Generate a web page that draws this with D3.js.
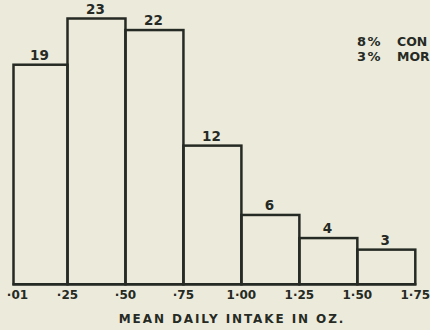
<!DOCTYPE html>
<html>
<head>
<meta charset="utf-8">
<script src="https://cdn.jsdelivr.net/npm/d3@7/dist/d3.min.js"></script>
<style>
  html, body { margin: 0; padding: 0; background: #ecebdb; }
  svg { display: block; }
  text { font-family: "DejaVu Sans", sans-serif; fill: #262a24; }
</style>
</head>
<body>
<svg id="chart" width="430" height="330"></svg>
<script>
// Class boundaries (oz.) and number of animals in each class
const binEdges = [0.01, 0.25, 0.50, 0.75, 1.00, 1.25, 1.50, 1.75];
const counts = [19, 23, 22, 12, 6, 4, 3];
const tickLabels = ["·01", "·25", "·50", "·75", "1·00", "1·25", "1·50", "1·75"];
const axisTitle = "MEAN DAILY INTAKE IN OZ.";
const notePercents = ["8%", "3%"];
const noteWords = ["CON", "MOR"];

const ink = "#262a24";
const svg = d3.select("#chart");

const x = d3.scaleLinear()
  .domain([0.01, 0.25, 1.75])
  .range([13.5, 67.5, 415.3]);
const y = d3.scaleLinear()
  .domain([0, 23])
  .range([284.3, 18.5]);

const bins = counts.map((c, i) => ({ x0: binEdges[i], x1: binEdges[i + 1], n: c }));

// histogram bars
svg.append("g").selectAll("rect")
  .data(bins)
  .join("rect")
  .attr("x", d => x(d.x0))
  .attr("y", d => y(d.n))
  .attr("width", d => x(d.x1) - x(d.x0))
  .attr("height", d => y(0) - y(d.n))
  .attr("fill", "none")
  .attr("stroke", ink)
  .attr("stroke-width", 2.5);

// baseline
svg.append("line")
  .attr("x1", x(binEdges[0]) - 1).attr("x2", x(binEdges[binEdges.length - 1]) + 1)
  .attr("y1", y(0)).attr("y2", y(0))
  .attr("stroke", ink).attr("stroke-width", 2.5);

// count labels above bars
svg.append("g").selectAll("text")
  .data(bins)
  .join("text")
  .attr("x", d => (x(d.x0) + x(d.x1)) / 2 - 1)
  .attr("y", d => y(d.n) - 5)
  .attr("text-anchor", "middle")
  .attr("font-size", 13.5)
  .attr("font-weight", 700)
  .text(d => d.n);

// boundary labels under the axis
svg.append("g").selectAll("text")
  .data(binEdges)
  .join("text")
  .attr("x", (d, i) => x(d) + (i === 0 ? 4 : 0))
  .attr("y", 298.5)
  .attr("text-anchor", "middle")
  .attr("font-size", 12)
  .attr("font-weight", 700)
  .text((d, i) => tickLabels[i]);

// axis title
svg.append("text")
  .attr("x", 232)
  .attr("y", 322.5)
  .attr("text-anchor", "middle")
  .attr("font-size", 12)
  .attr("font-weight", 700)
  .attr("letter-spacing", 1.9)
  .text(axisTitle);

// note at right
const note = svg.append("g").selectAll("text")
  .data(notePercents)
  .join("text")
  .attr("y", (d, i) => 46 + i * 15)
  .attr("font-size", 13)
  .attr("font-weight", 700);
note.append("tspan").attr("x", 357).attr("letter-spacing", 1.5).text(d => d);
note.append("tspan").attr("x", 397).attr("font-size", 12.5).text((d, i) => noteWords[i]);
</script>
</body>
</html>
